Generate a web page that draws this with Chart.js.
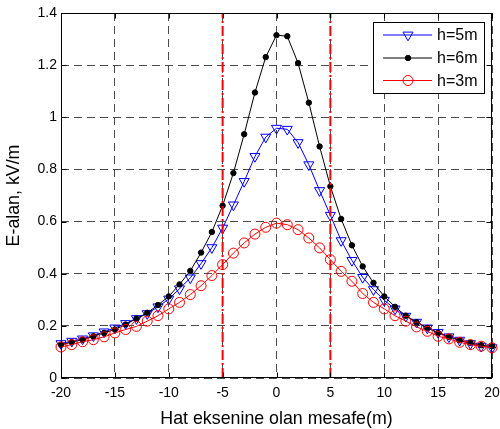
<!DOCTYPE html>
<html>
<head>
<meta charset="utf-8">
<script src="https://cdn.jsdelivr.net/npm/chart.js@4"></script>
<style>
  html, body { margin: 0; padding: 0; background: #fff; }
  canvas { display: block; }
</style>
</head>
<body>
<canvas id="line-chart" width="500" height="429"></canvas>
<script>
// distance from line axis (m)
const xs = [-20, -19, -18, -17, -16, -15, -14, -13, -12, -11, -10, -9, -8, -7, -6, -5, -4, -3, -2, -1,
            0, 1, 2, 3, 4, 5, 6, 7, 8, 9, 10, 11, 12, 13, 14, 15, 16, 17, 18, 19, 20];

// E field, kV/m
const hFive = [0.132, 0.141, 0.150, 0.162, 0.177, 0.192, 0.209, 0.228, 0.247, 0.273, 0.303, 0.342, 0.384, 0.439, 0.500, 0.575, 0.664, 0.754, 0.850, 0.924,
               0.958, 0.954, 0.903, 0.818, 0.719, 0.624, 0.527, 0.451, 0.386, 0.339, 0.298, 0.265, 0.237, 0.214, 0.192, 0.175, 0.158, 0.145, 0.132, 0.122, 0.116];
const hSix = [0.128, 0.137, 0.147, 0.160, 0.173, 0.186, 0.205, 0.228, 0.250, 0.280, 0.313, 0.359, 0.411, 0.481, 0.560, 0.661, 0.786, 0.935, 1.095, 1.231,
              1.315, 1.311, 1.208, 1.056, 0.888, 0.735, 0.610, 0.509, 0.428, 0.365, 0.313, 0.273, 0.239, 0.214, 0.192, 0.173, 0.158, 0.145, 0.135, 0.126, 0.122];
const hThree = [0.119, 0.128, 0.139, 0.147, 0.158, 0.173, 0.186, 0.198, 0.218, 0.239, 0.265, 0.290, 0.320, 0.354, 0.393, 0.435, 0.479, 0.518, 0.552, 0.578,
                0.594, 0.588, 0.569, 0.537, 0.499, 0.454, 0.409, 0.371, 0.324, 0.290, 0.265, 0.239, 0.218, 0.196, 0.179, 0.160, 0.150, 0.137, 0.128, 0.122, 0.116];

// red dash-dot limits
const limitX = [-5, 5];
const yRange = [0, 1.4];

const xTicks = [-20, -15, -10, -5, 0, 5, 10, 15, 20];
const yTicks = [0, 0.2, 0.4, 0.6, 0.8, 1, 1.2, 1.4];
const yTickLabels = ["0", "0.2", "0.4", "0.6", "0.8", "1", "1.2", "1.4"];

const FONT = '"Liberation Sans", Arial, Helvetica, sans-serif';
Chart.defaults.font.family = FONT;
Chart.defaults.color = '#000';

const pts = ys => xs.map((x, i) => ({x: x, y: ys[i]}));

const series = [
  {label: 'h=5m', color: '#0000ff', style: 'triangle', radius: 5.8, rot: 180, fill: 'rgba(0,0,0,0)'},
  {label: 'h=6m', color: '#000000', style: 'circle', radius: 2.7, rot: 0, fill: '#000000'},
  {label: 'h=3m', color: '#ff0000', style: 'circle', radius: 5, rot: 0, fill: 'rgba(0,0,0,0)'}
];

const whiteBg = {
  id: 'whiteBg',
  beforeDraw(chart) {
    const ctx = chart.ctx;
    ctx.save();
    ctx.fillStyle = '#fff';
    ctx.fillRect(0, 0, chart.width, chart.height);
    ctx.restore();
  }
};

// axes box, inward ticks and the boxed legend
const frame = {
  id: 'frame',
  afterDraw(chart) {
    const ctx = chart.ctx;
    const a = chart.chartArea;
    const sx = chart.scales.x, sy = chart.scales.y;
    const L = Math.round(a.left) + 0.5, R = Math.round(a.right) - 0.5;
    const T = Math.round(a.top) + 0.5, B = Math.round(a.bottom) - 0.5;
    ctx.save();
    ctx.strokeStyle = '#000';
    ctx.lineWidth = 1;
    ctx.setLineDash([]);
    ctx.strokeRect(L, T, R - L, B - T);
    ctx.beginPath();
    xTicks.forEach(v => {
      const px = Math.round(sx.getPixelForValue(v)) + 0.5;
      ctx.moveTo(px, B); ctx.lineTo(px, B - 5);
      ctx.moveTo(px, T); ctx.lineTo(px, T + 5);
    });
    yTicks.forEach(v => {
      const py = Math.round(sy.getPixelForValue(v)) + 0.5;
      ctx.moveTo(L, py); ctx.lineTo(L + 5, py);
      ctx.moveTo(R, py); ctx.lineTo(R - 5, py);
    });
    ctx.stroke();

    // legend
    const bx = 373.5, by = 22.5, bw = 111, bh = 71;
    ctx.fillStyle = '#fff';
    ctx.fillRect(bx, by, bw, bh);
    ctx.strokeRect(bx, by, bw, bh);
    const rows = [35, 58, 80.5];
    series.forEach((s, i) => {
      const y = rows[i];
      ctx.strokeStyle = s.color;
      ctx.lineWidth = 1;
      ctx.beginPath();
      ctx.moveTo(383, y); ctx.lineTo(432, y);
      ctx.stroke();
      ctx.fillStyle = s.fill;
      Chart.helpers.drawPoint(ctx, {pointStyle: s.style, radius: s.radius, rotation: s.rot, borderWidth: 1}, 408, y);
      ctx.fillStyle = '#000';
      ctx.font = '16px ' + FONT;
      ctx.textBaseline = 'middle';
      ctx.textAlign = 'left';
      ctx.fillText(s.label, 437, y + 1);
    });
    ctx.restore();
  }
};

const datasets = [
  {data: pts(hFive), order: 3},
  {data: pts(hSix), order: 2},
  {data: pts(hThree), order: 1}
].map((d, i) => {
  const s = series[i];
  return Object.assign(d, {
    label: s.label,
    borderColor: s.color,
    borderWidth: 1,
    pointStyle: s.style,
    pointRadius: s.radius,
    pointRotation: s.rot,
    pointBorderColor: s.color,
    pointBackgroundColor: s.fill,
    pointBorderWidth: 1,
    tension: 0,
    clip: false
  });
});

limitX.forEach(v => {
  datasets.push({
    label: 'limit',
    data: [{x: v, y: yRange[0]}, {x: v, y: yRange[1]}],
    borderColor: '#ff0000',
    borderWidth: 2,
    borderDash: [10, 3, 2, 3],
    pointRadius: 0,
    order: 0
  });
});

new Chart(document.getElementById("line-chart"), {
  type: 'line',
  data: {datasets: datasets},
  plugins: [whiteBg, frame],
  options: {
    responsive: false,
    devicePixelRatio: 1,
    animation: false,
    layout: {padding: {top: 13, right: 8, left: 0, bottom: 0}},
    plugins: {legend: {display: false}, tooltip: {enabled: false}},
    scales: {
      x: {
        type: 'linear',
        min: -20,
        max: 20,
        afterBuildTicks: s => { s.ticks = xTicks.map(v => ({value: v})); },
        afterFit: s => { s.height = 51; s.paddingLeft = 0; s.paddingRight = 0; },
        grid: {color: '#4a4a4a', lineWidth: 1, drawTicks: false},
        border: {display: false, dash: [8, 5]},
        ticks: {font: {size: 14}, color: '#000', padding: 7, maxRotation: 0, autoSkip: false},
        title: {display: true, text: 'Hat eksenine olan mesafe(m)', font: {size: 17.8}, color: '#000', padding: {top: 0, bottom: -1}}
      },
      y: {
        type: 'linear',
        min: 0,
        max: 1.4,
        afterBuildTicks: s => { s.ticks = yTicks.map(v => ({value: v})); },
        afterFit: s => { s.width = 61; s.paddingTop = 0; s.paddingBottom = 0; },
        grid: {color: '#4a4a4a', lineWidth: 1, drawTicks: false},
        border: {display: false, dash: [8, 5]},
        ticks: {font: {size: 14}, color: '#000', padding: 4, autoSkip: false,
                callback: (v, i) => yTickLabels[i]},
        title: {display: true, text: 'E-alan, kV/m', font: {size: 17.8}, color: '#000', padding: {top: 3, bottom: 0}}
      }
    }
  }
});
</script>
</body>
</html>
